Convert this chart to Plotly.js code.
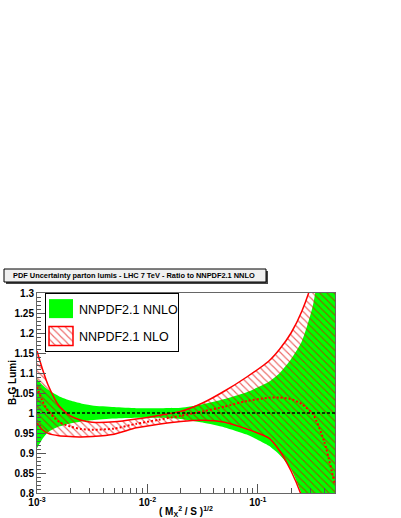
<!DOCTYPE html>
<html><head><meta charset="utf-8">
<script src="https://cdn.plot.ly/plotly-3.0.1.min.js"></script>
<style>html,body{margin:0;padding:0;background:#fff;} #chart{width:401px;height:518px;}</style>
</head><body><div id="chart"></div>
<script>
// sqrt(M_X^2 / S) sampling points
const mass   = [0.001, 0.00112, 0.00126, 0.00158, 0.002, 0.00251, 0.00316, 0.005, 0.00794, 0.0126, 0.02, 0.0316, 0.05, 0.0794, 0.126, 0.158, 0.2, 0.251, 0.316, 0.398, 0.5];
// NNPDF2.1 NNLO band (ratio to its own central value)
const nnloUp = [1.085, 1.07, 1.058, 1.042, 1.031, 1.024, 1.019, 1.015, 1.012, 1.012, 1.013, 1.022, 1.035, 1.052, 1.078, 1.10, 1.135, 1.18, 1.27, 1.45, 1.6];
const nnloDn = [0.912, 0.935, 0.952, 0.966, 0.974, 0.979, 0.982, 0.986, 0.988, 0.988, 0.985, 0.976, 0.964, 0.946, 0.918, 0.895, 0.86, 0.795, 0.7, 0.55, 0.4];
// NNPDF2.1 NLO band and central value
const nloUp  = [1.155, 1.11, 1.07, 1.018, 0.993, 0.982, 0.977, 0.978, 0.985, 0.994, 1.004, 1.025, 1.055, 1.09, 1.13, 1.16, 1.2, 1.255, 1.335, 1.45, 1.6];
const nloDn  = [0.975, 0.958, 0.949, 0.943, 0.941, 0.94, 0.941, 0.947, 0.963, 0.972, 0.979, 0.982, 0.977, 0.96, 0.937, 0.905, 0.855, 0.79, 0.7, 0.55, 0.4];
const nloCen = [1.065, 1.03, 1.005, 0.978, 0.966, 0.96, 0.958, 0.961, 0.973, 0.983, 0.993, 1.004, 1.016, 1.03, 1.038, 1.039, 1.035, 1.022, 0.997, 0.93, 0.82];
// reference line (NNLO central = 1)
const refX = [0.001, 0.5];
const refY = [1, 1];
// axis ticks
const xTickVals = [0.001, 0.01, 0.1];
const xTickText = ['10<sup>-3</sup>', '10<sup>-2</sup>', '10<sup>-1</sup>'];
const xMinor = [];
[0.001, 0.01, 0.1].forEach(d => { for (let k = 2; k <= 9; k++) { const v = d * k; if (v <= 0.5) xMinor.push(v); } });
const names = ['NNPDF2.1 NNLO', 'NNPDF2.1 NLO'];
const titleText = 'PDF Uncertainty parton lumis - LHC 7 TeV - Ratio to NNPDF2.1 NNLO';

const FONT = 'Liberation Sans, Arial, Helvetica, sans-serif';
const L = 37, R = 335, T = 293, B = 493;
const px2x = p => (p - L) / (R - L);
const py2y = p => (B - p) / (B - T);

const bandX = mass.concat(mass.slice().reverse());
const data = [
  { x: bandX, y: nnloUp.concat(nnloDn.slice().reverse()), type: 'scatter', mode: 'lines',
    fill: 'toself', fillcolor: '#00ff00', line: { width: 0, shape: 'spline', smoothing: 0.6 },
    name: names[0], legendgroup: 'a', hoverinfo: 'skip' },
  { x: bandX, y: nloUp.concat(nloDn.slice().reverse()), type: 'scatter', mode: 'lines',
    fill: 'toself', fillcolor: 'rgba(0,0,0,0)',
    fillpattern: { shape: '\\', size: 5, solidity: 0.22, fgcolor: 'rgba(225,0,0,0.6)', bgcolor: 'rgba(0,0,0,0)' },
    line: { width: 0, shape: 'spline', smoothing: 0.6 },
    name: names[1], legendgroup: 'b', hoverinfo: 'skip' },
  { x: mass, y: nloUp, type: 'scatter', mode: 'lines', line: { color: '#ff0000', width: 1.5, shape: 'spline', smoothing: 0.6 }, showlegend: false, hoverinfo: 'skip' },
  { x: mass, y: nloDn, type: 'scatter', mode: 'lines', line: { color: '#ff0000', width: 1.5, shape: 'spline', smoothing: 0.6 }, showlegend: false, hoverinfo: 'skip' },
  { x: mass, y: nloCen, type: 'scatter', mode: 'lines', line: { color: '#ff0000', width: 2, dash: '2px,2px', shape: 'spline', smoothing: 0.6 }, showlegend: false, hoverinfo: 'skip' },
  { x: refX, y: refY, type: 'scatter', mode: 'lines', line: { color: '#000', width: 1.3, dash: '3px,2px' }, showlegend: false, hoverinfo: 'skip' }
];

const axisCommon = { showline: true, linecolor: '#666', linewidth: 1, mirror: true, showgrid: false, zeroline: false,
  ticks: 'inside', ticklen: 9, tickwidth: 1, tickcolor: '#555',
  tickfont: { family: FONT, size: 10, weight: 'bold', color: '#000' } };

const layout = {
  width: 401, height: 518, autosize: false,
  margin: { l: L, r: 401 - R, t: T, b: 518 - B, pad: 0 },
  paper_bgcolor: '#fff', plot_bgcolor: '#fff',
  font: { family: FONT, size: 10, color: '#000' },
  showlegend: true,
  xaxis: Object.assign({}, axisCommon, { type: 'log', range: [-3, Math.log10(0.5)],
    tickmode: 'array', tickvals: xTickVals, ticktext: xTickText,
    minor: { tickmode: 'array', tickvals: xMinor, ticks: 'inside', ticklen: 5, tickcolor: '#555' } }),
  yaxis: Object.assign({}, axisCommon, { range: [0.8, 1.3], tick0: 0.8, dtick: 0.05,
    minor: { dtick: 0.01, ticks: 'inside', ticklen: 4, tickcolor: '#555' } }),
  legend: { x: px2x(45), y: 1, xanchor: 'left', yanchor: 'top', bgcolor: '#fff', bordercolor: '#000', borderwidth: 1,
    font: { family: FONT, size: 12.5, color: '#000' }, itemwidth: 30, tracegroupgap: 8, traceorder: 'grouped' },
  shapes: [
    { type: 'rect', xref: 'paper', yref: 'paper', x0: px2x(6), x1: px2x(268), y0: py2y(284), y1: py2y(271), fillcolor: '#444', line: { width: 0 }, layer: 'above' },
    { type: 'rect', xref: 'paper', yref: 'paper', x0: px2x(4), x1: px2x(266), y0: py2y(282), y1: py2y(269), fillcolor: '#f0f0f0', line: { width: 1, color: '#000' }, layer: 'above' }
  ],
  annotations: [
    { text: titleText, xref: 'paper', yref: 'paper', x: px2x(134), y: py2y(275.5), showarrow: false, xanchor: 'center', yanchor: 'middle',
      font: { family: FONT, size: 7.4, weight: 'bold', color: '#000' } },
    { text: 'B-G Lumi', xref: 'paper', yref: 'paper', x: px2x(12), y: py2y(383), showarrow: false, textangle: -90, xanchor: 'center', yanchor: 'middle',
      font: { family: FONT, size: 10, weight: 'bold', color: '#000' } },
    { text: '( M<sub>X</sub><sup>2</sup> / S )<sup>1/2</sup>', xref: 'paper', yref: 'paper', x: px2x(186), y: py2y(511), showarrow: false, xanchor: 'center', yanchor: 'middle',
      font: { family: FONT, size: 10, weight: 'bold', color: '#000' } }
  ]
};

Plotly.newPlot('chart', data, layout, { staticPlot: true, displayModeBar: false }).then(gd => {
  const NS = 'http://www.w3.org/2000/svg';
  const plotFills = gd.querySelectorAll('.scatterlayer .trace .js-fill');
  const groups = gd.querySelectorAll('.legend .traces');
  groups.forEach((g, i) => {
    let fp = g.querySelector('.legendfill path');
    if (!fp) {
      let lf = g.querySelector('.legendfill');
      if (!lf) { lf = document.createElementNS(NS, 'g'); g.insertBefore(lf, g.firstChild); }
      fp = document.createElementNS(NS, 'path'); lf.appendChild(fp);
    }
    fp.setAttribute('d', 'M3,-9.5h24v19h-24z');
    if (i === 0) {
      fp.style.fill = '#00ff00';
    } else {
      const src = plotFills[1];
      if (src && src.style.fill && src.style.fill.indexOf('url') >= 0) fp.style.fill = src.style.fill;
      const border = document.createElementNS(NS, 'path');
      border.setAttribute('d', 'M3,-9.5h24v19h-24z');
      border.style.fill = 'none'; border.style.stroke = '#ff0000'; border.style.strokeWidth = '1.5px';
      g.appendChild(border);
    }
    const txt = g.querySelector('text.legendtext');
    if (txt) txt.setAttribute('x', '33');
  });
  const bg = gd.querySelector('.legend rect.bg');
  if (bg) bg.setAttribute('width', '133');
});
</script>
</body></html>
